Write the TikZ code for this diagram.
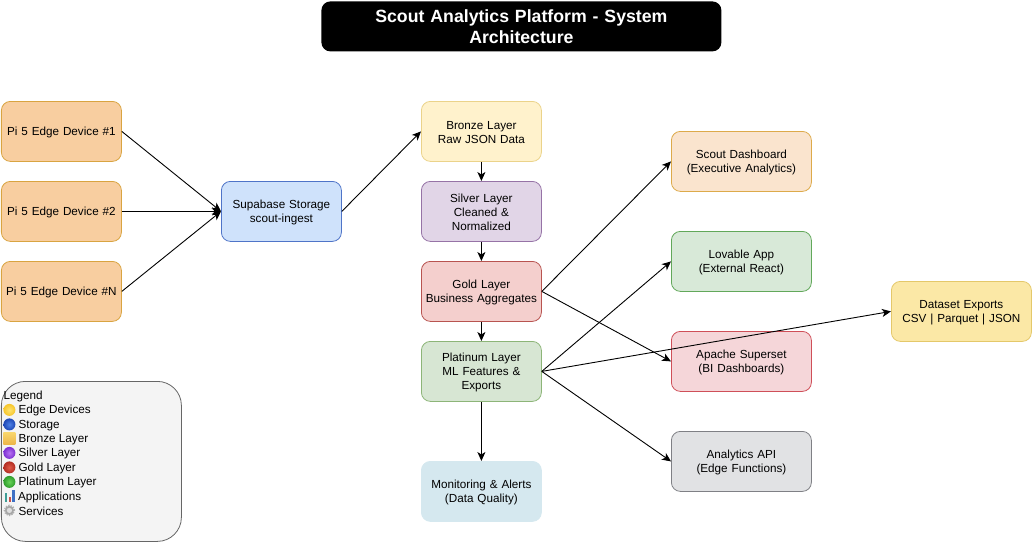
\documentclass[tikz,border=0pt]{standalone}
\usepackage{fontspec}
\setmainfont{Liberation Sans}
\usetikzlibrary{arrows.meta,shadings}
\definecolor{pifill}{HTML}{F8CEA0}\definecolor{pidraw}{HTML}{D9A441}
\definecolor{supfill}{HTML}{CFE2FB}\definecolor{supdraw}{HTML}{4F74C8}
\definecolor{brfill}{HTML}{FFF2CC}\definecolor{brdraw}{HTML}{EBD38A}
\definecolor{sifill}{HTML}{E1D5E7}\definecolor{sidraw}{HTML}{9673A6}
\definecolor{gofill}{HTML}{F4CFCD}\definecolor{godraw}{HTML}{B85450}
\definecolor{plfill}{HTML}{D7E6D3}\definecolor{pldraw}{HTML}{8DB578}
\definecolor{mofill}{HTML}{D5E8EF}\definecolor{modraw}{HTML}{D5E8EF}
\definecolor{scfill}{HTML}{FAE4CE}\definecolor{scdraw}{HTML}{DDAA4A}
\definecolor{lofill}{HTML}{D8E9D8}\definecolor{lodraw}{HTML}{62A85A}
\definecolor{asfill}{HTML}{F5D6D9}\definecolor{asdraw}{HTML}{CF4F58}
\definecolor{apfill}{HTML}{E1E2E4}\definecolor{apdraw}{HTML}{7F8085}
\definecolor{dsfill}{HTML}{FBE8A6}\definecolor{dsdraw}{HTML}{E4C86A}
\definecolor{lgfill}{HTML}{F4F4F4}\definecolor{lgdraw}{HTML}{666666}
\definecolor{ylin}{HTML}{FFE470}\definecolor{ylout}{HTML}{F6C52A}
\definecolor{blin}{HTML}{4F82E6}\definecolor{blout}{HTML}{1F48B5}
\definecolor{sqa}{HTML}{F8D56B}\definecolor{sqb}{HTML}{EDB64A}
\definecolor{vin}{HTML}{B873F2}\definecolor{vout}{HTML}{7C30D2}
\definecolor{rin}{HTML}{E25A48}\definecolor{rout}{HTML}{B22D22}
\definecolor{gin}{HTML}{68D458}\definecolor{gout}{HTML}{2F9C2C}
\definecolor{bara}{HTML}{3F9E96}\definecolor{barb}{HTML}{C8524C}\definecolor{barc}{HTML}{3E70C4}
\tikzset{
  box/.style={draw,rounded corners=9pt,line width=0.8pt,align=center,font=\fontsize{11.7}{14.3}\selectfont,inner sep=0pt,text=black,execute at end node={\vspace*{-2pt}}},
  narrow/.style={box,minimum width=120pt,minimum height=60pt,text width=118pt},
  wide/.style={box,minimum width=140pt,minimum height=60pt,text width=138pt},
  conn/.style={draw=black,line width=0.9pt,-{Stealth[length=9pt,width=8pt,inset=2.5pt]}},
  legline/.style={anchor=west,inner sep=0pt,font=\fontsize{11.7}{14.4}\selectfont,text=black}
}
\begin{document}
\begin{tikzpicture}[x=1pt,y=-1pt]
\useasboundingbox (-0.4,-0.4) rectangle (1033.6,543.6);
\node[rounded corners=9pt,fill=black,minimum width=400pt,minimum height=50pt,inner sep=0pt,text width=380pt,align=center,text=white,font=\fontsize{17.7}{21.4}\selectfont\bfseries] (title) at (521,26) {Scout Analytics Platform - System\\Architecture};

\node[narrow,fill=pifill,draw=pidraw] (pi1) at (61,131) {Pi 5 Edge Device \#1};
\node[narrow,fill=pifill,draw=pidraw] (pi2) at (61,211) {Pi 5 Edge Device \#2};
\node[narrow,fill=pifill,draw=pidraw] (pin) at (61,291) {Pi 5 Edge Device \#N};
\node[narrow,fill=supfill,draw=supdraw] (sup) at (281,211) {Supabase Storage\\scout-ingest};
\node[narrow,fill=brfill,draw=brdraw] (bronze) at (481,131) {Bronze Layer\\Raw JSON Data};
\node[narrow,fill=sifill,draw=sidraw] (silver) at (481,211) {Silver Layer\\Cleaned \&\\Normalized};
\node[narrow,fill=gofill,draw=godraw] (gold) at (481,291) {Gold Layer\\Business Aggregates};
\node[narrow,fill=plfill,draw=pldraw] (plat) at (481,371) {Platinum Layer\\ML Features \&\\Exports};
\node[narrow,fill=mofill,draw=modraw] (mon) at (481,491) {Monitoring \& Alerts\\(Data Quality)};
\node[wide,fill=scfill,draw=scdraw] (scout) at (741,161) {Scout Dashboard\\(Executive Analytics)};
\node[wide,fill=lofill,draw=lodraw] (lov) at (741,261) {Lovable App\\(External React)};
\node[wide,fill=asfill,draw=asdraw] (sset) at (741,361) {Apache Superset\\(BI Dashboards)};
\node[wide,fill=apfill,draw=apdraw] (api) at (741,461) {Analytics API\\(Edge Functions)};
\node[wide,fill=dsfill,draw=dsdraw] (ds) at (961,311) {Dataset Exports\\CSV | Parquet | JSON};

\draw[conn] (pi1.east) -- (sup.west);
\draw[conn] (pi2.east) -- (sup.west);
\draw[conn] (pin.east) -- (sup.west);
\draw[conn] (sup.east) -- (bronze.west);
\draw[conn] (bronze.south) -- (silver.north);
\draw[conn] (silver.south) -- (gold.north);
\draw[conn] (gold.south) -- (plat.north);
\draw[conn] (plat.south) -- (mon.north);
\draw[conn] (gold.east) -- (scout.west);
\draw[conn] (gold.east) -- (sset.west);
\draw[conn] (plat.east) -- (lov.west);
\draw[conn] (plat.east) -- (api.west);
\draw[conn] (plat.east) -- (ds.west);

\node[draw=lgdraw,fill=lgfill,rounded corners=24pt,line width=0.8pt,minimum width=180pt,minimum height=160pt,inner sep=0pt] (legend) at (91,461) {};
\node[legline] (l0) at (3,396) {Legend};
\node[legline] (l1) at (18,410.3) {Edge Devices};
\node[legline] (l2) at (18,424.8) {Storage};
\node[legline] (l3) at (18,439) {Bronze Layer};
\node[legline] (l4) at (18,453.3) {Silver Layer};
\node[legline] (l5) at (18,467.8) {Gold Layer};
\node[legline] (l6) at (18,482.2) {Platinum Layer};
\node[legline] (l7) at (17.5,496.8) {Applications};
\node[legline] (l8) at (18,510.8) {Services};

\shade[inner color=ylin,outer color=ylout] (9,409.5) circle (6pt);
\shade[inner color=blin,outer color=blout] (9,424) circle (6pt);
\shade[top color=sqa,bottom color=sqb] (3,432.5) rectangle (15,444);
\shade[inner color=vin,outer color=vout] (9,452.5) circle (6pt);
\shade[inner color=rin,outer color=rout] (9,467) circle (6pt);
\shade[inner color=gin,outer color=gout] (9,481.5) circle (6pt);
\fill[bara] (4.5,493) rectangle (7,502);
\fill[barb] (8.3,497) rectangle (10.8,502);
\fill[barc] (12,490) rectangle (14.5,502);
\draw[gray!60,line width=1.2pt,dash pattern=on 1.4pt off 1.2pt] (9,510) circle (5.2pt);
\fill[gray!70] (9,510) circle (4.6pt);
\fill[gray!25] (9,510) circle (2.6pt);
\end{tikzpicture}
\end{document}
